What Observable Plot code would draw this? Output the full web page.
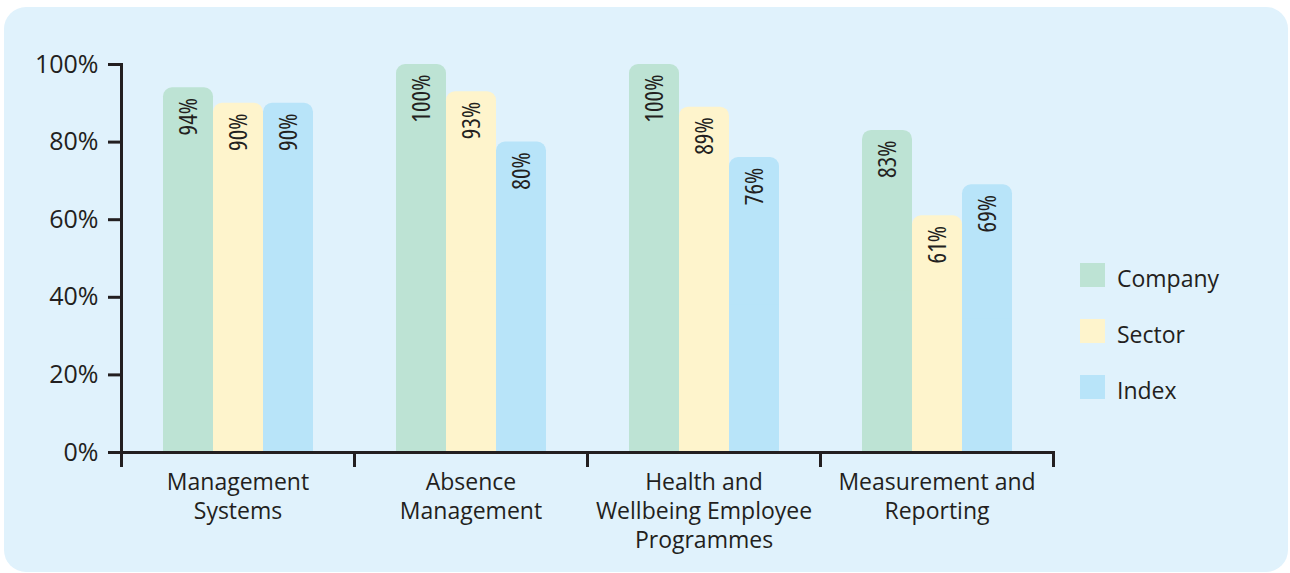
<!DOCTYPE html>
<html>
<head>
<meta charset="utf-8">
<script src="https://cdn.jsdelivr.net/npm/d3@7"></script>
<script src="https://cdn.jsdelivr.net/npm/@observablehq/plot@0.6"></script>
<style>
  html, body { margin: 0; padding: 0; background: #ffffff; }
  #wrap { position: relative; width: 1290px; height: 573px; overflow: hidden; font-family: "Open Sans", sans-serif; color: #231f20; }
  #panel { position: absolute; left: 4px; top: 7px; width: 1284px; height: 565px; border-radius: 22px; background: #e0f2fc; }
  #chart { position: absolute; left: 0; top: 0; }
  #legend { position: absolute; left: 1080px; top: 263px; }
  .item { display: flex; align-items: center; height: 24px; margin-bottom: 32px; font-size: 23px; }
  .item span { position: relative; top: 3px; }
  .sw { width: 25px; height: 24px; margin-right: 12px; }
  .barlabels text { font-stretch: 78%; }
</style>
</head>
<body>
<div id="wrap">
  <div id="panel"></div>
  <div id="chart"></div>
  <div id="legend"></div>
</div>
<script>
const categories = ["Management Systems", "Absence Management", "Health and Wellbeing Employee Programmes", "Measurement and Reporting"];
const tickLabels = ["Management\nSystems", "Absence\nManagement", "Health and\nWellbeing Employee\nProgrammes", "Measurement and\nReporting"];
const series = ["Company", "Sector", "Index"];
const colors = ["#bde3d4", "#fef4cc", "#b8e4f9"];
const company = [94, 100, 100, 83];
const sector = [90, 93, 89, 61];
const index = [90, 80, 76, 69];
const yTicks = [0, 20, 40, 60, 80, 100];

const valuesBySeries = {Company: company, Sector: sector, Index: index};
const rows = [];
categories.forEach((c, i) => series.forEach(s => rows.push({category: c, series: s, value: valuesBySeries[s][i]})));

const ink = "#231f20";
const font = "'Open Sans', sans-serif";

const chart = Plot.plot({
  width: 1290,
  height: 573,
  marginLeft: 121,
  marginRight: 237,
  marginTop: 64,
  marginBottom: 121,
  style: {background: "transparent", fontFamily: font, color: ink},
  fx: {domain: categories, padding: 0},
  x: {domain: series, paddingInner: 0, paddingOuter: 0.8, axis: null},
  y: {domain: [0, 100]},
  color: {domain: series, range: colors},
  marks: [
    Plot.barY(rows, {fx: "category", x: "series", y: "value", fill: "series", rx: 9}),
    Plot.barY(rows, {fx: "category", x: "series", y: d => d.value / 2, fill: "series"}),
    Plot.text(rows, {fx: "category", x: "series", y: "value", text: d => d.value + "%", rotate: -90, textAnchor: "end", lineAnchor: "middle", dy: 10, fontSize: 25, fill: ink, className: "barlabels"}),
    Plot.ruleY([0], {stroke: ink, strokeWidth: 3}),
    Plot.frame({anchor: "left", fx: () => categories[0], stroke: ink, strokeWidth: 3}),
    Plot.frame({anchor: "left", insetTop: 388, insetBottom: -13, stroke: ink, strokeWidth: 3}),
    Plot.frame({anchor: "right", insetTop: 388, insetBottom: -13, stroke: ink, strokeWidth: 3}),
    Plot.axisY({ticks: yTicks, tickFormat: d => d + "%", tickSize: 13, tickPadding: 10, fontSize: 25, label: null, stroke: ink, strokeWidth: 3, strokeOpacity: 1, fill: ink}),
    Plot.axisFx({anchor: "bottom", tickSize: 0, tickPadding: 17, fontSize: 23, lineHeight: 1.26, label: null, fill: ink, tickFormat: d => tickLabels[categories.indexOf(d)]})
  ]
});
document.getElementById("chart").appendChild(chart);

const legend = document.getElementById("legend");
series.forEach((s, i) => {
  const item = document.createElement("div");
  item.className = "item";
  const sw = document.createElement("div");
  sw.className = "sw";
  sw.style.background = colors[i];
  const label = document.createElement("span");
  label.textContent = s;
  item.appendChild(sw);
  item.appendChild(label);
  legend.appendChild(item);
});
</script>
</body>
</html>
